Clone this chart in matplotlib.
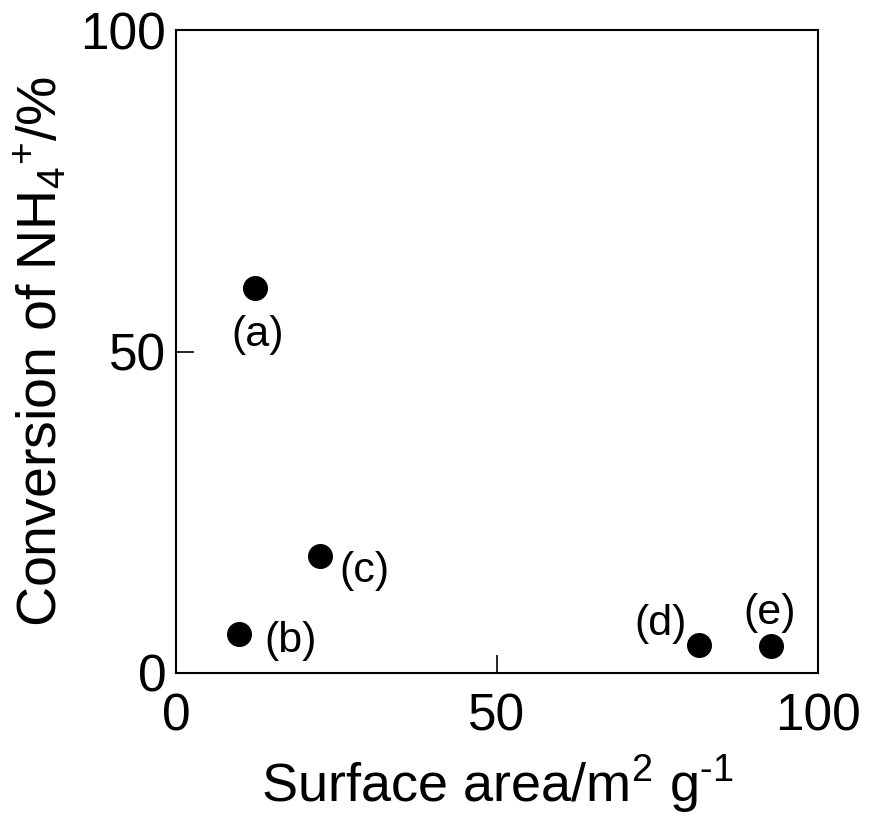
import matplotlib
matplotlib.use('Agg')
import matplotlib.pyplot as plt

plt.rcParams['font.family'] = ['Liberation Sans', 'DejaVu Sans']
plt.rcParams['mathtext.fontset'] = 'custom'
plt.rcParams['mathtext.rm'] = 'Liberation Sans'

# surface area (m2/g) vs conversion of NH4+ (%)
area = [12.3, 9.8, 22.4, 81.5, 92.7]
conv = [59.9, 6.1, 18.2, 4.4, 4.2]
names = ['(a)', '(b)', '(c)', '(d)', '(e)']
# label offsets in points
offs = [(2, -34), (37, -5), (32, -11), (-28, 15), (-1, 24)]

fig = plt.figure(figsize=(8.69, 8.25), dpi=100)
ax = fig.add_axes([176/869, 1-673/825, (818-176)/869, (673-30)/825])

ax.plot(area, conv, 'o', color='black', markersize=17, ls='none')
for x, y, t, o in zip(area, conv, names, offs):
    ax.annotate(t, (x, y), xytext=o, textcoords='offset points',
                ha='center', va='center', fontsize=31)

ax.set_xlim(0, 100)
ax.set_ylim(0, 100)
ax.set_xticks([0, 50, 100])
ax.set_yticks([0, 50, 100])
ax.tick_params(direction='in', length=13, width=1.2, labelsize=37)
ax.tick_params(axis='x', pad=14)
ax.tick_params(axis='y', pad=7)
for s in ax.spines.values():
    s.set_linewidth(1.5)

ax.set_xlabel('Surface area/m$^{2}$ g$^{\u20101}$', fontsize=39, labelpad=8)
ax.set_ylabel('Conversion of NH$_{4}$$^{+}$/%', fontsize=40, labelpad=8)

fig.savefig('out.png', dpi=100)
